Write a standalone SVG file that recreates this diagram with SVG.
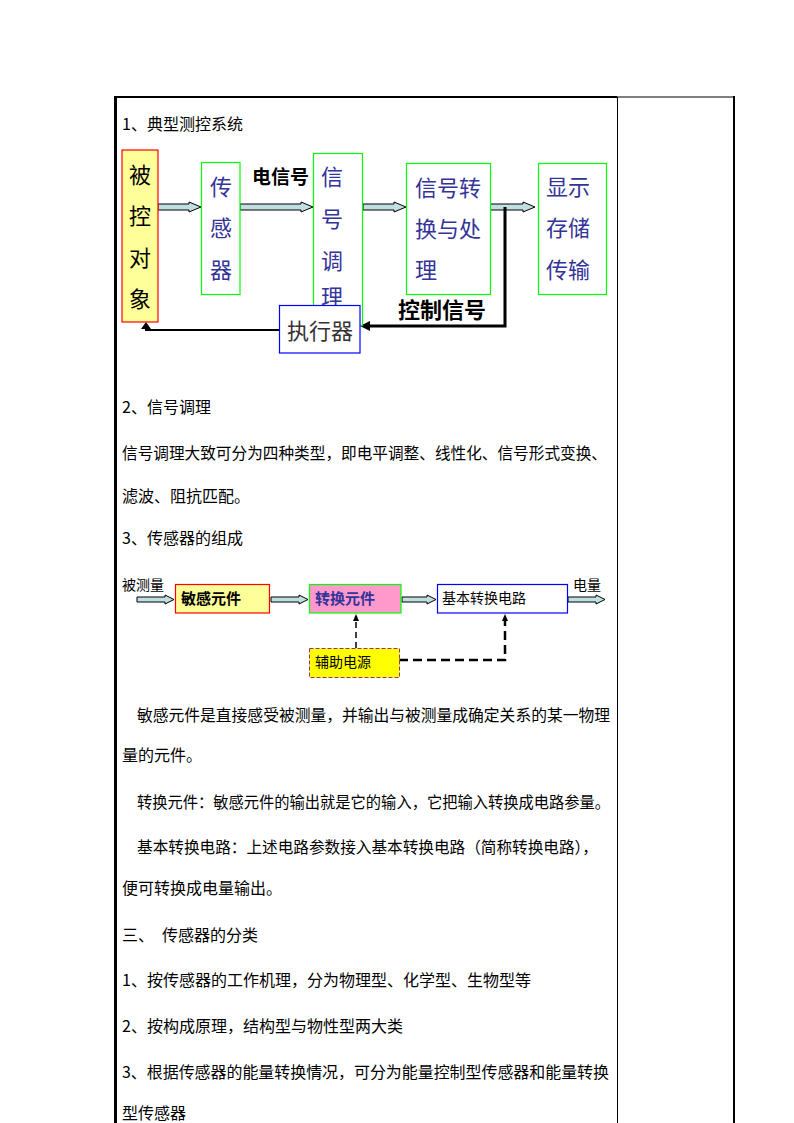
<svg xmlns="http://www.w3.org/2000/svg" width="794" height="1123" viewBox="0 0 794 1123">
<style>
.t{font-family:"Noto Sans CJK SC","Liberation Sans",sans-serif;font-size:16px;fill:#000}
.big{font-family:"Noto Sans CJK SC","Liberation Serif",serif;font-size:22px}
.blue{fill:#333399}
.sm{font-family:"Noto Sans CJK SC","Liberation Sans",sans-serif;font-size:14px;fill:#000}
.barrow{fill:#BFDFE0;stroke:#000;stroke-width:1}
</style>
<defs>
<clipPath id="clipTiaoli"><rect x="300" y="140" width="80" height="165"/></clipPath>
</defs>
<rect width="794" height="1123" fill="#fff"/>
<!-- table -->
<g id="table" fill="none" stroke="#000">
<line x1="115" y1="97" x2="617" y2="97" stroke-width="2"/>
<line x1="617" y1="97" x2="735" y2="97" stroke-width="1"/>
<line x1="115.5" y1="96" x2="115.5" y2="1123" stroke-width="3"/>
<line x1="617.5" y1="97" x2="617.5" y2="1123" stroke-width="1"/>
<line x1="734" y1="96" x2="734" y2="1123" stroke-width="2"/>
</g>
<!-- text -->
<g id="texts">
<text class="t" x="122" y="130">1、典型测控系统</text>
<text class="t" x="122" y="413">2、信号调理</text>
<text class="t" x="122" y="459" textLength="485" lengthAdjust="spacingAndGlyphs">信号调理大致可分为四种类型，即电平调整、线性化、信号形式变换、</text>
<text class="t" x="122" y="502">滤波、阻抗匹配。</text>
<text class="t" x="122" y="544">3、传感器的组成</text>
<text class="t" x="137" y="721" textLength="473" lengthAdjust="spacingAndGlyphs">敏感元件是直接感受被测量，并输出与被测量成确定关系的某一物理</text>
<text class="t" x="122" y="761">量的元件。</text>
<text class="t" x="137" y="808" textLength="473" lengthAdjust="spacingAndGlyphs">转换元件：敏感元件的输出就是它的输入，它把输入转换成电路参量。</text>
<text class="t" x="137" y="853" textLength="461" lengthAdjust="spacingAndGlyphs">基本转换电路：上述电路参数接入基本转换电路（简称转换电路），</text>
<text class="t" x="122" y="894">便可转换成电量输出。</text>
<text class="t" x="122" y="941">三、  <tspan x="162">传感器的分类</tspan></text>
<text class="t" x="122" y="986">1、按传感器的工作机理，分为物理型、化学型、生物型等</text>
<text class="t" x="122" y="1032">2、按构成原理，结构型与物性型两大类</text>
<text class="t" x="122" y="1078" textLength="487" lengthAdjust="spacingAndGlyphs">3、根据传感器的能量转换情况，可分为能量控制型传感器和能量转换</text>
<text class="t" x="122" y="1119">型传感器</text>
</g>
<!-- diagram 1 connectors -->
<g id="connectors1">
<polygon class="barrow" points="158,204 189,204 189,202 201,207 189,212 189,210 158,210"/>
<polygon class="barrow" points="240,204 301,204 301,202 313,207 301,212 301,210 240,210"/>
<polygon class="barrow" points="363,204 394,204 394,202 406,207 394,212 394,210 363,210"/>
<polygon class="barrow" points="490,204 523,204 523,202 535,207 523,212 523,210 490,210"/>
<polyline points="505,207 505,326 368,326" fill="none" stroke="#000" stroke-width="3"/>
<polygon points="360,326 370,321 370,331" fill="#000"/>
<polyline points="279,330 146,330 146,328" fill="none" stroke="#000" stroke-width="2"/>
<polygon points="146,322 141,329 151,329" fill="#000"/>
<text x="252" y="184" style="font-family:'Noto Sans CJK SC',sans-serif;font-size:19px;font-weight:bold" fill="#000">电信号</text>
<text x="398" y="318" style="font-family:'Noto Sans CJK SC',sans-serif;font-size:22px;font-weight:bold" fill="#000">控制信号</text>
</g>
<g id="n-beikong">
<rect x="122" y="150" width="36" height="172" fill="#FFFF99" stroke="#FF0000" stroke-width="1.2"/>
<text class="big" x="140" text-anchor="middle" fill="#000"><tspan x="140" y="183">被</tspan><tspan x="140" y="224">控</tspan><tspan x="140" y="266">对</tspan><tspan x="140" y="307">象</tspan></text>
</g>
<g id="n-sensor">
<rect x="201.5" y="162.5" width="38.5" height="132" fill="#fff" stroke="#00FF00" stroke-width="1.2"/>
<text class="big blue" text-anchor="middle"><tspan x="221" y="195">传</tspan><tspan x="221" y="236">感</tspan><tspan x="221" y="278">器</tspan></text>
</g>
<g id="n-tiaoli">
<rect x="313.5" y="153.5" width="49" height="172" fill="#fff" stroke="#00FF00" stroke-width="1.2"/>
<text class="big blue" text-anchor="middle" clip-path="url(#clipTiaoli)"><tspan x="332" y="185">信</tspan><tspan x="332" y="227">号</tspan><tspan x="332" y="269">调</tspan><tspan x="332" y="305">理</tspan></text>
</g>
<g id="n-chuli">
<rect x="406.5" y="163.5" width="84" height="131" fill="#fff" stroke="#00FF00" stroke-width="1.2"/>
<text class="big blue"><tspan x="415" y="196">信号转</tspan><tspan x="415" y="237">换与处</tspan><tspan x="415" y="278">理</tspan></text>
</g>
<g id="n-xianshi">
<rect x="538.5" y="163.5" width="68" height="131" fill="#fff" stroke="#00FF00" stroke-width="1.2"/>
<text class="big blue"><tspan x="546" y="195">显示</tspan><tspan x="546" y="236">存储</tspan><tspan x="546" y="278">传输</tspan></text>
</g>
<g id="n-zhixing">
<rect x="279.5" y="305.5" width="80.5" height="47.5" fill="#fff" stroke="#0000FF" stroke-width="1.2"/>
<text class="big" x="320" y="339" text-anchor="middle" fill="#333">执行器</text>
</g>
<!-- diagram 2 -->
<g id="connectors2">
<polygon class="barrow" points="137,597 165,597 165,595 174,599.5 165,604 165,602 137,602"/>
<polygon class="barrow" points="271,597 299,597 299,595 308,599.5 299,604 299,602 271,602"/>
<polygon class="barrow" points="402,597 427,597 427,595 436,599.5 427,604 427,602 402,602"/>
<polygon class="barrow" points="568,597 596,597 596,595 605,599.5 596,604 596,602 568,602"/>
<line x1="356" y1="648" x2="356" y2="620" stroke="#000" stroke-width="1.5" stroke-dasharray="6,4"/>
<polygon points="356,614 353,621 359,621" fill="#000"/>
<polyline points="399,660 505,660 505,620" fill="none" stroke="#000" stroke-width="2.5" stroke-dasharray="9,5"/>
<polygon points="505,614 502,621 508,621" fill="#000"/>
<text class="sm" x="122" y="590">被测量</text>
<text class="sm" x="573" y="590">电量</text>
</g>
<g id="n-mingan">
<rect x="175.5" y="584.5" width="94" height="28.5" fill="#FFFF99" stroke="#FF0000" stroke-width="1.2"/>
<text class="sm" x="181" y="604" style="font-size:15px;font-weight:bold">敏感元件</text>
</g>
<g id="n-zhuanhuan">
<rect x="309.5" y="584.5" width="91.5" height="28.5" fill="#FF99CC" stroke="#00FF00" stroke-width="1.2"/>
<text class="sm" x="315" y="604" style="font-size:15px;font-weight:bold;fill:#333399">转换元件</text>
</g>
<g id="n-jiben">
<rect x="437.5" y="584.5" width="130" height="28.5" fill="#fff" stroke="#0000FF" stroke-width="1.2"/>
<text class="sm" x="442" y="603">基本转换电路</text>
</g>
<g id="n-fuzhu">
<rect x="309.5" y="648.5" width="90" height="29" fill="#FFFF00" stroke="#993366" stroke-width="1" stroke-dasharray="4,2"/>
<text class="sm" x="315" y="667">辅助电源</text>
</g>
</svg>
